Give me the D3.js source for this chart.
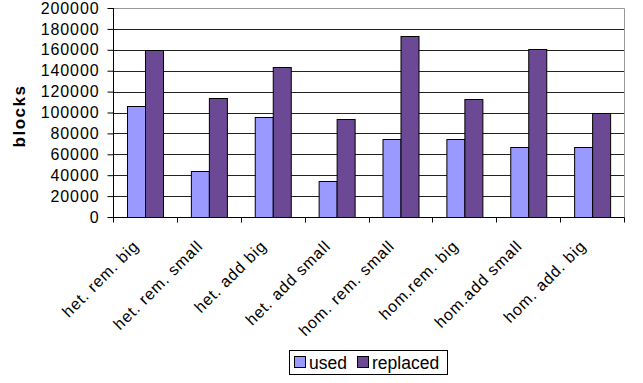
<!DOCTYPE html>
<html><head><meta charset="utf-8">
<script src="https://cdn.jsdelivr.net/npm/d3@7"></script>
<style>body{margin:0;background:#fff}svg{display:block}text{font-family:"Liberation Sans",Arial,sans-serif}</style>
</head><body><svg id="c" width="643" height="383"></svg>
<script>
const categories = ["het. rem. big","het. rem. small","het. add big","het. add small","hom. rem. small","hom.rem. big","hom.add small","hom. add. big"];
const seriesNames = ["used","replaced"];
const usedValues = [106000,44000,96000,34000,75000,75000,67000,67000];
const replacedValues = [160000,114000,144000,94000,173000,113000,160500,100000];
const yTicks = [0,20000,40000,60000,80000,100000,120000,140000,160000,180000,200000];
const colors = {used:"#9999FF", replaced:"#6B4994"};

const svg = d3.select("#c");
const L=113, R=624, T=8, B=217;
const x = d3.scaleBand().domain(categories).range([L,R]).padding(0);
const xi = d3.scaleBand().domain(seriesNames).range([0,x.bandwidth()]).paddingInner(0).paddingOuter(0.778);
const y = d3.scaleLinear().domain([0,200000]).range([B,T]);

// gridlines
svg.append("g").selectAll("line").data(yTicks.filter(d=>d>0)).join("line")
  .attr("x1",L).attr("x2",R).attr("y1",d=>Math.round(y(d))+0.5).attr("y2",d=>Math.round(y(d))+0.5)
  .attr("stroke","#222").attr("stroke-width",1);
// plot border top/right
svg.append("path").attr("d",`M${L},${T+0.5}H${R+0.5}V${B}`).attr("fill","none").attr("stroke","#999");

// bars
const data = categories.map((c,i)=>({c, vals:[{s:"used",v:usedValues[i]},{s:"replaced",v:replacedValues[i]}]}));
const g = svg.append("g").selectAll("g").data(data).join("g").attr("transform",d=>`translate(${x(d.c)},0)`);
g.selectAll("rect").data(d=>d.vals).join("rect")
  .attr("x",d=>Math.round(xi(d.s))+0.5).attr("width",Math.round(xi.bandwidth()))
  .attr("y",d=>Math.round(y(d.v))+0.5).attr("height",d=>B-Math.round(y(d.v)))
  .attr("fill",d=>colors[d.s]).attr("stroke","#000").attr("stroke-width",1);

// y axis
const yAxis = d3.axisLeft(y).tickValues(yTicks).tickSize(6).tickPadding(8).tickFormat(d3.format("d"));
const ya = svg.append("g").attr("transform",`translate(${L+0.5},0)`).call(yAxis);
ya.select(".domain").attr("stroke","#000").attr("d",`M0,${T}V${B}`);
ya.selectAll(".tick line").attr("stroke","#000");
ya.selectAll(".tick text").attr("font-size",16).attr("letter-spacing","0.9px").attr("fill","#000")
  .attr("font-family",'"Liberation Sans",Arial,sans-serif');

// x axis
const xAxis = d3.axisBottom(x).tickSize(0).tickFormat("");
const xa = svg.append("g").attr("transform",`translate(0,${B+0.5})`).call(xAxis);
xa.select(".domain").attr("stroke","#000").attr("d",`M${L},0H${R+0.5}`);
xa.selectAll(".tick").remove();
const tickPos = categories.map(c=>x(c)).concat([R]);
xa.selectAll("line.t").data(tickPos).join("line").attr("class","t")
  .attr("x1",d=>Math.round(d)+0.5).attr("x2",d=>Math.round(d)+0.5).attr("y1",0).attr("y2",5).attr("stroke","#000");
svg.append("g").selectAll("text").data(categories).join("text")
  .attr("transform",d=>`translate(${x(d)+x.bandwidth()/2-5},247) rotate(-45)`)
  .attr("text-anchor","end").attr("font-size",16).attr("letter-spacing","0.9px").text(d=>d);

// y label
svg.append("text").attr("transform","translate(25,116) rotate(-90)").attr("text-anchor","middle")
  .attr("font-size",17).attr("font-weight","bold").attr("letter-spacing","1.5px").text("blocks");

// legend
const lg = svg.append("g");
lg.append("rect").attr("x",289.5).attr("y",350.5).attr("width",158).attr("height",24).attr("fill","#fff").attr("stroke","#000");
const items = [{s:"used",x:294,tx:309},{s:"replaced",x:357,tx:372}];
lg.selectAll("rect.k").data(items).join("rect").attr("class","k")
  .attr("x",d=>d.x+0.5).attr("y",356.5).attr("width",11).attr("height",11)
  .attr("fill",d=>colors[d.s]).attr("stroke","#000");
lg.selectAll("text").data(items).join("text").attr("x",d=>d.tx).attr("y",368.5)
  .attr("font-size",17.5).text(d=>d.s);
</script></body></html>
